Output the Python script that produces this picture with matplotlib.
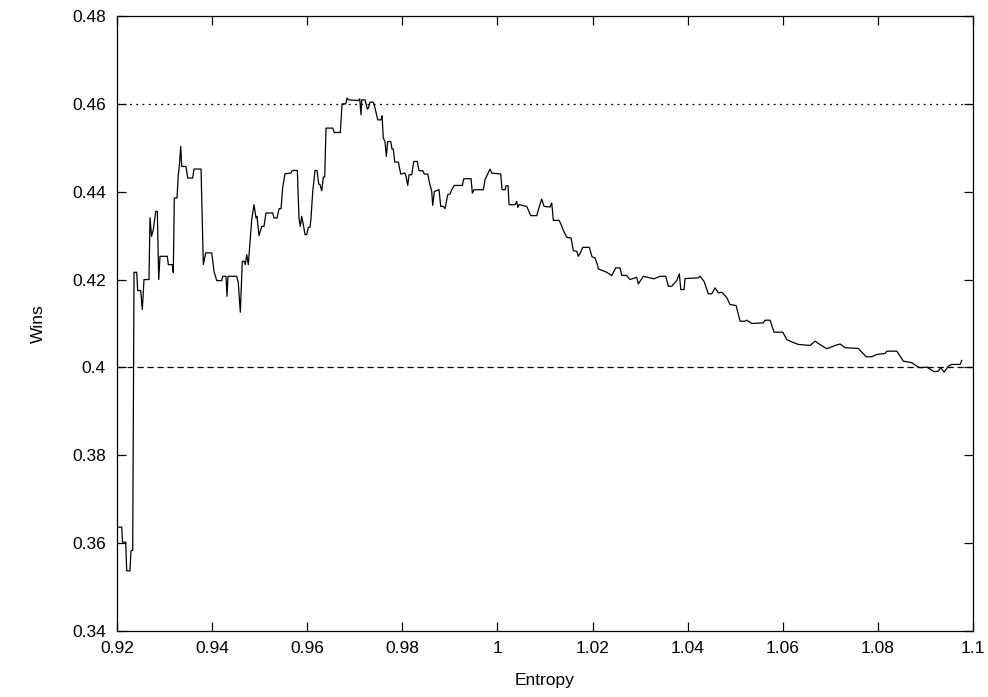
import matplotlib
matplotlib.use("Agg")
import matplotlib.pyplot as plt

plt.rcParams["font.family"] = ["Liberation Sans", "DejaVu Sans"]

# Running win rate against entropy threshold
entropy = [
    0.92021, 0.92099, 0.92116, 0.92183, 0.92204, 0.92273, 0.92294, 0.92330, 0.92358, 0.92414,
    0.92435, 0.92498, 0.92532, 0.92568, 0.92673, 0.92694, 0.92726, 0.92763, 0.92814, 0.92848,
    0.92877, 0.92904, 0.93058, 0.93079, 0.93163, 0.93184, 0.93205, 0.93262, 0.93289, 0.93310,
    0.93340, 0.93361, 0.93451, 0.93487, 0.93592, 0.93619, 0.93767, 0.93815, 0.93865, 0.93992,
    0.94040, 0.94097, 0.94202, 0.94223, 0.94292, 0.94313, 0.94334, 0.94517, 0.94551, 0.94593,
    0.94635, 0.94677, 0.94698, 0.94728, 0.94761, 0.94833, 0.94881, 0.94923, 0.94944, 0.94986,
    0.95043, 0.95091, 0.95133, 0.95274, 0.95302, 0.95365, 0.95407, 0.95449, 0.95485, 0.95533,
    0.95659, 0.95687, 0.95792, 0.95827, 0.95855, 0.95884, 0.95918, 0.95954, 0.95989, 0.96023,
    0.96059, 0.96080, 0.96116, 0.96164, 0.96206, 0.96242, 0.96269, 0.96305, 0.96339, 0.96368,
    0.96395, 0.96536, 0.96570, 0.96696, 0.96732, 0.96810, 0.96837, 0.96873, 0.97075, 0.97104,
    0.97131, 0.97146, 0.97215, 0.97264, 0.97289, 0.97321, 0.97390, 0.97426, 0.97483, 0.97552,
    0.97573, 0.97600, 0.97636, 0.97663, 0.97693, 0.97756, 0.97783, 0.97811, 0.97840, 0.97916,
    0.97966, 0.98057, 0.98078, 0.98113, 0.98141, 0.98198, 0.98240, 0.98315, 0.98351, 0.98429,
    0.98463, 0.98534, 0.98576, 0.98618, 0.98639, 0.98673, 0.98772, 0.98807, 0.98862, 0.98898,
    0.98955, 0.99003, 0.99039, 0.99093, 0.99262, 0.99291, 0.99445, 0.99472, 0.99508, 0.99703,
    0.99739, 0.99781, 0.99844, 0.99880, 1.00069, 1.00097, 1.00160, 1.00181, 1.00223, 1.00244,
    1.00370, 1.00406, 1.00427, 1.00454, 1.00616, 1.00700, 1.00826, 1.00881, 1.00931, 1.00980,
    1.01106, 1.01142, 1.01175, 1.01295, 1.01331, 1.01386, 1.01457, 1.01548, 1.01596, 1.01668,
    1.01701, 1.01737, 1.01794, 1.01932, 1.01989, 1.02052, 1.02101, 1.02122, 1.02298, 1.02403,
    1.02488, 1.02578, 1.02614, 1.02719, 1.02788, 1.02929, 1.02963, 1.03068, 1.03293, 1.03419,
    1.03539, 1.03594, 1.03665, 1.03770, 1.03825, 1.03855, 1.03924, 1.03945, 1.04225, 1.04260,
    1.04344, 1.04435, 1.04506, 1.04576, 1.04645, 1.04717, 1.04822, 1.04891, 1.05018, 1.05102,
    1.05207, 1.05243, 1.05348, 1.05592, 1.05627, 1.05733, 1.05817, 1.06000, 1.06084, 1.06153,
    1.06328, 1.06574, 1.06679, 1.06748, 1.06925, 1.07100, 1.07205, 1.07310, 1.07590, 1.07752,
    1.07872, 1.07976, 1.08151, 1.08187, 1.08397, 1.08536, 1.08713, 1.08818, 1.08887, 1.09028,
    1.09133, 1.09182, 1.09272, 1.09323, 1.09392, 1.09483, 1.09554, 1.09729, 1.09764,
]
wins = [
    0.36364, 0.36364, 0.36023, 0.36023, 0.35370, 0.35370, 0.35825, 0.35841, 0.42166, 0.42166,
    0.41750, 0.41750, 0.41318, 0.42000, 0.42000, 0.43409, 0.42984, 0.43136, 0.43552, 0.43552,
    0.42000, 0.42530, 0.42530, 0.42341, 0.42341, 0.42159, 0.43857, 0.43857, 0.44386, 0.44575,
    0.45030, 0.44575, 0.44575, 0.44311, 0.44311, 0.44516, 0.44516, 0.42341, 0.42607, 0.42607,
    0.42189, 0.41977, 0.41977, 0.42075, 0.42075, 0.41620, 0.42075, 0.42075, 0.41925, 0.41257,
    0.42416, 0.42416, 0.42341, 0.42568, 0.42341, 0.43364, 0.43705, 0.43402, 0.43439, 0.43000,
    0.43211, 0.43211, 0.43516, 0.43516, 0.43402, 0.43402, 0.43614, 0.43614, 0.44107, 0.44409,
    0.44425, 0.44484, 0.44484, 0.43402, 0.43211, 0.43439, 0.43250, 0.43023, 0.43023, 0.43189,
    0.43189, 0.43402, 0.44007, 0.44484, 0.44484, 0.44175, 0.44159, 0.44023, 0.44334, 0.44334,
    0.45448, 0.45448, 0.45348, 0.45348, 0.46000, 0.46000, 0.46130, 0.46091, 0.46075, 0.46114,
    0.45750, 0.46091, 0.46091, 0.45880, 0.45909, 0.46039, 0.46039, 0.45902, 0.45636, 0.45636,
    0.45727, 0.45220, 0.45143, 0.44802, 0.45143, 0.45143, 0.44970, 0.44970, 0.44675, 0.44675,
    0.44402, 0.44425, 0.44348, 0.44143, 0.44386, 0.44386, 0.44689, 0.44689, 0.44477, 0.44477,
    0.44402, 0.44402, 0.44182, 0.44007, 0.43689, 0.44007, 0.44045, 0.43666, 0.43666, 0.43614,
    0.43932, 0.43948, 0.44045, 0.44143, 0.44143, 0.44295, 0.44295, 0.43970, 0.44045, 0.44045,
    0.44273, 0.44370, 0.44516, 0.44425, 0.44402, 0.44045, 0.44045, 0.44136, 0.44136, 0.43705,
    0.43705, 0.43780, 0.43643, 0.43705, 0.43666, 0.43455, 0.43455, 0.43666, 0.43834, 0.43666,
    0.43652, 0.43743, 0.43348, 0.43348, 0.43273, 0.43120, 0.42961, 0.42948, 0.42659, 0.42643,
    0.42530, 0.42591, 0.42734, 0.42734, 0.42516, 0.42493, 0.42341, 0.42243, 0.42166, 0.42091,
    0.42266, 0.42266, 0.42098, 0.42091, 0.42000, 0.42052, 0.41902, 0.42075, 0.42016, 0.42075,
    0.42075, 0.41848, 0.41848, 0.41977, 0.42130, 0.41773, 0.41773, 0.42023, 0.42039, 0.42075,
    0.41961, 0.41675, 0.41675, 0.41811, 0.41698, 0.41711, 0.41591, 0.41432, 0.41409, 0.41052,
    0.41052, 0.41075, 0.41000, 0.41016, 0.41075, 0.41075, 0.40802, 0.40802, 0.40636, 0.40598,
    0.40523, 0.40500, 0.40598, 0.40545, 0.40425, 0.40500, 0.40534, 0.40448, 0.40432, 0.40243,
    0.40243, 0.40295, 0.40318, 0.40370, 0.40370, 0.40143, 0.40107, 0.40030, 0.39993, 0.40007,
    0.39939, 0.39902, 0.39916, 0.39993, 0.39893, 0.40030, 0.40068, 0.40068, 0.40159,
]

upper_ref = 0.46
lower_ref = 0.40

x_ticks = [0.92, 0.94, 0.96, 0.98, 1.00, 1.02, 1.04, 1.06, 1.08, 1.10]
x_tick_labels = ["0.92", "0.94", "0.96", "0.98", "1", "1.02", "1.04", "1.06", "1.08", "1.1"]
y_ticks = [0.34, 0.36, 0.38, 0.40, 0.42, 0.44, 0.46, 0.48]
y_tick_labels = ["0.34", "0.36", "0.38", "0.4", "0.42", "0.44", "0.46", "0.48"]

fig = plt.figure(figsize=(9.88, 6.97), dpi=100)
ax = fig.add_axes([117 / 988, 66 / 697, 856 / 988, 615 / 697])

ax.axhline(upper_ref, color="black", lw=0.9, linestyle=(0, (1.5, 3.5)))
ax.axhline(lower_ref, color="black", lw=0.9, linestyle=(0, (5, 3)))
ax.plot(entropy, wins, color="black", lw=0.9)

ax.set_xlim(0.92, 1.10)
ax.set_ylim(0.34, 0.48)
ax.set_xticks(x_ticks)
ax.set_xticklabels(x_tick_labels)
ax.set_yticks(y_ticks)
ax.set_yticklabels(y_tick_labels)

ax.tick_params(direction="in", length=6.5, width=0.9, labelsize=12.5,
               top=True, right=True, color="black")
ax.tick_params(axis="x", pad=7)
ax.tick_params(axis="y", pad=8)
for s in ax.spines.values():
    s.set_linewidth(0.9)

ax.set_xlabel("Entropy", fontsize=12.5)
ax.set_ylabel("Wins", fontsize=12.5)
ax.xaxis.set_label_coords(0.5, -50 / 615)
ax.xaxis.label.set_va("center")
ax.yaxis.set_label_coords(-79 / 856, 0.5)
ax.yaxis.label.set_va("center")

fig.savefig("out.png", dpi=100)
